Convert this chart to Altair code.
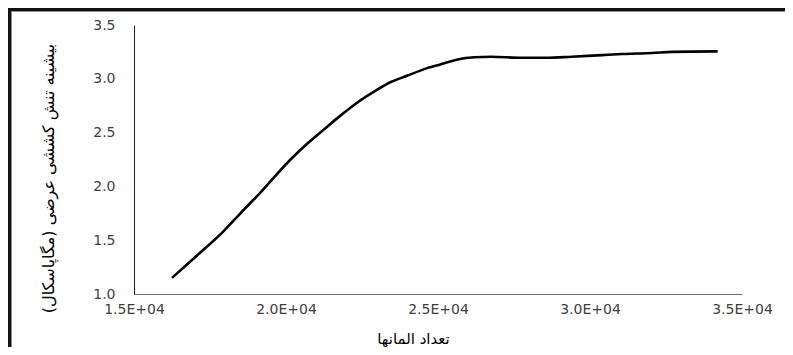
import altair as alt
import pandas as pd

# Curve
elements = [16250, 17000, 17900, 18500, 19150, 20150, 20750, 21250, 21800, 22350,
            22950, 23450, 24000, 24550, 25100, 25650, 26200, 26750, 27750, 28550,
            29400, 30400, 31050, 32050, 32700, 34200]
stress = [1.15, 1.34, 1.57, 1.75, 1.94, 2.25, 2.41, 2.53, 2.66, 2.78,
          2.89, 2.97, 3.03, 3.09, 3.135, 3.18, 3.20, 3.205, 3.195, 3.195,
          3.205, 3.22, 3.23, 3.24, 3.25, 3.255]

x_ticks = [15000, 20000, 25000, 30000, 35000]
x_tick_labels = ["1.5E+04", "2.0E+04", "2.5E+04", "3.0E+04", "3.5E+04"]
y_ticks = [1.0, 1.5, 2.0, 2.5, 3.0, 3.5]

x_title = "تعداد المانها"
y_title = "بیشینه تنش کششی عرضی (مگاپاسکال)"

df = pd.DataFrame({"n": elements, "s": stress})

label_expr = "[" + ",".join("'%s'" % t for t in x_tick_labels) + "][indexof([" + \
    ",".join(str(v) for v in x_ticks) + "], datum.value)]"

# whole drawing surface; the plot rectangle lies inside it via the scale ranges
W, H = 777, 339
PL, PR, PT, PB = 126, 734, 17, 286

line = alt.Chart(df).mark_line(color="black", strokeWidth=2.6, interpolate="monotone").encode(
    x=alt.X("n:Q", scale=alt.Scale(domain=[15000, 35000], range=[PL, PR], nice=False, zero=False),
            axis=alt.Axis(values=x_ticks, labelExpr=label_expr, title=x_title, offset=-(H - PB),
                          grid=False, ticks=False, domainColor="#707070", domainWidth=1,
                          labelFont="DejaVu Sans", labelFontSize=14, labelColor="#404040",
                          labelPadding=8, labelBaseline="top", labelFlush=False,
                          titleFont="DejaVu Sans", titleFontSize=15, titleFontWeight="normal",
                          titleColor="black", titleX=279 + PL, titleY=44, titleBaseline="middle")),
    y=alt.Y("s:Q", scale=alt.Scale(domain=[1.0, 3.5], range=[PB, PT], nice=False, zero=False),
            axis=alt.Axis(values=y_ticks, format=".1f", title=y_title, offset=-PL,
                          grid=False, ticks=False, domainColor="#202020", domainWidth=1,
                          labelFont="DejaVu Sans", labelFontSize=14, labelColor="#404040",
                          labelPadding=19, labelFlush=False,
                          titleFont="DejaVu Sans", titleFontSize=16, titleFontWeight="normal",
                          titleColor="black", titleX=-86, titleY=153 + PT, titleAngle=270,
                          titleAlign="center", titleBaseline="middle")),
)

# cropped chart-area frame: dark edge with a grey inner shadow (decoration)
frame = pd.DataFrame({"x": [0, 3, 0, 3], "x2": [W, W, 3, 4],
                      "y": [0, 3, 0, 3], "y2": [3, 4, H, H],
                      "c": ["#141414", "#8c8c8c", "#141414", "#8c8c8c"]})
bars = alt.Chart(frame).mark_rect().encode(
    x=alt.X("x:Q", scale=None), x2="x2:Q", y=alt.Y("y:Q", scale=None), y2="y2:Q",
    color=alt.Color("c:N", scale=None))

chart = alt.layer(line, bars).resolve_scale(x="independent", y="independent").properties(
    width=W, height=H,
    autosize=alt.AutoSizeParams(type="none"),
    padding=0,
    background="white",
).configure_view(stroke=None)

chart.save("out.html", embed_options={"renderer": "svg", "actions": False})
